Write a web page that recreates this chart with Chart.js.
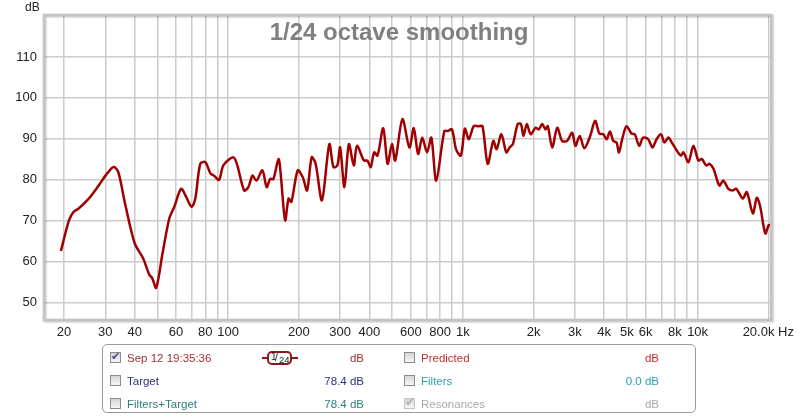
<!DOCTYPE html>
<html>
<head>
<meta charset="utf-8">
<script src="https://cdn.jsdelivr.net/npm/chart.js@4.4.0/dist/chart.umd.min.js"></script>
<style>
  html, body { margin: 0; padding: 0; background: #fff; }
  body { width: 800px; height: 418px; position: relative; overflow: hidden;
         font-family: "Liberation Sans", Arial, sans-serif; }
  #chart { position: absolute; left: 0; top: 0; }
  .panel { position: absolute; left: 102px; top: 344px; width: 594px; height: 69px;
           border: 1px solid #9a9a9a; border-radius: 5px; box-sizing: border-box; }
  .row { position: absolute; height: 14px; line-height: 14px; font-size: 11.5px; white-space: nowrap; }
  .cb { position: absolute; width: 11px; height: 11px; border: 1px solid #8c8c8c;
        background: linear-gradient(#d6d6d6, #f6f6f6); box-sizing: border-box; }
  .cb span { position: absolute; left: 0px; top: -3px; font-size: 11px; font-family: "DejaVu Sans", sans-serif; }
  .val { position: absolute; text-align: right; width: 80px; }
  .badge { position: absolute; left: 262px; top: 351px; width: 36px; height: 14px; }
  .badge .stub { position: absolute; top: 6px; height: 2px; width: 7px; background: #8a1a1a; }
  .badge .box { position: absolute; left: 5px; top: 0; width: 25px; height: 14px;
                border: 2px solid #8a1a1a; border-radius: 5px; box-sizing: border-box; background: #fff;
                color: #222; }
  .badge .box span { position: absolute; line-height: 10px; }
</style>
</head>
<body>
<canvas id="chart" width="800" height="345"></canvas>

<div class="panel"></div>

<div class="cb" style="left:110px; top:352px;"><span style="color:#4a4a9a;">✔</span></div>
<div class="row" style="left:127px; top:351px; color:#a03030;">Sep 12 19:35:36</div>
<div class="badge">
  <div class="stub" style="left:0;"></div>
  <div class="stub" style="left:29px;"></div>
  <div class="box">
    <span style="left:2px; top:-1px; font-size:10px;">1</span>
    <span style="left:6px; top:0px; font-size:10px;">/</span>
    <span style="left:10px; top:2px; font-size:9.5px;">24</span>
  </div>
</div>
<div class="row val" style="left:284px; top:351px; color:#a03030;">dB</div>

<div class="cb" style="left:110px; top:375px;"></div>
<div class="row" style="left:127px; top:374px; color:#30307a;">Target</div>
<div class="row val" style="left:284px; top:374px; color:#30307a;">78.4 dB</div>

<div class="cb" style="left:110px; top:398px;"></div>
<div class="row" style="left:127px; top:397px; color:#2e7e7a;">Filters+Target</div>
<div class="row val" style="left:284px; top:397px; color:#2e7e7a;">78.4 dB</div>

<div class="cb" style="left:404px; top:352px;"></div>
<div class="row" style="left:421px; top:351px; color:#c03030;">Predicted</div>
<div class="row val" style="left:579px; top:351px; color:#c03030;">dB</div>

<div class="cb" style="left:404px; top:375px;"></div>
<div class="row" style="left:421px; top:374px; color:#2ea0b0;">Filters</div>
<div class="row val" style="left:579px; top:374px; color:#2ea0b0;">0.0 dB</div>

<div class="cb" style="left:404px; top:398px; border-color:#c4c4c4;"><span style="color:#b0b0b0;">✔</span></div>
<div class="row" style="left:421px; top:397px; color:#a8a8a8;">Resonances</div>
<div class="row val" style="left:579px; top:397px; color:#a8a8a8;">dB</div>

<script>
const freqHz = [
    19.4, 21.0, 22.0, 23.1, 25.5, 28.1, 30.5, 32.6, 34.1, 36.4,
    40.0, 43.4, 46.2, 47.5, 49.4, 52.6, 56.2, 59.0, 63.1, 66.3,
    69.9, 72.5, 76.1, 80.0, 84.2, 87.1, 91.5, 95.5, 105, 109,
    117, 122, 127, 132, 140, 146, 151, 156, 164, 168,
    175, 181, 186, 198, 208, 217, 227, 236, 251, 270,
    281, 292, 300, 313, 327, 343, 354, 379, 392, 405,
    419, 433, 458, 478, 499, 515, 553, 592, 618, 645,
    671, 704, 734, 770, 834, 862, 899, 935, 981, 1020,
    1060, 1112, 1166, 1212, 1276, 1348, 1392, 1460, 1532, 1581,
    1633, 1712, 1768, 1812, 1872, 1946, 2040, 2107, 2177, 2250,
    2300, 2403, 2523, 2649, 2781, 2920, 3017, 3146, 3291, 3487,
    3659, 3815, 3967, 4097, 4232, 4372, 4516, 4623, 4788, 4980,
    5229, 5404, 5636, 5862, 6158, 6424, 6686, 6986, 7217, 7508,
    7762, 8160, 8482, 8706, 9137, 9598, 10077, 10411, 10873, 11236,
    11681, 12380, 12870, 13517, 14110, 14580, 14930, 15580, 16200, 17190,
    17880, 18480, 19420, 20070, 20400
];

const splDb = [
    62.6, 70.1, 72.2, 73.0, 75.4, 78.6, 81.5, 83.1, 81.8, 74.2,
    64.5, 60.9, 56.8, 56.0, 53.6, 62.1, 70.6, 73.4, 77.8, 75.8,
    73.4, 75.4, 83.9, 84.3, 81.5, 81.0, 80.0, 83.5, 85.5, 83.9,
    77.4, 78.2, 81.0, 79.8, 82.3, 78.2, 80.2, 80.2, 85.1, 80.6,
    70.1, 75.4, 74.6, 82.3, 80.6, 77.4, 85.5, 83.9, 75.0, 88.7,
    83.1, 83.5, 87.9, 78.2, 88.7, 83.5, 88.3, 84.7, 84.7, 83.1,
    86.7, 85.9, 92.6, 83.9, 88.7, 84.7, 94.8, 87.9, 92.6, 86.3,
    90.3, 86.7, 90.3, 79.8, 91.9, 91.9, 92.3, 87.5, 85.9, 92.5,
    89.9, 93.1, 93.1, 93.1, 83.9, 89.5, 87.5, 91.1, 86.7, 87.9,
    88.7, 93.6, 93.6, 90.7, 93.6, 91.1, 92.7, 92.3, 93.6, 92.3,
    93.1, 87.9, 92.7, 89.5, 89.5, 91.5, 88.3, 90.7, 87.7, 90.7,
    94.4, 91.3, 91.1, 89.9, 91.8, 89.5, 89.1, 86.7, 90.3, 93.1,
    91.3, 91.1, 88.3, 90.3, 89.9, 87.9, 89.9, 91.1, 89.1, 90.3,
    89.1, 87.1, 85.9, 86.7, 84.3, 88.3, 84.7, 85.1, 83.5, 83.9,
    82.7, 78.6, 79.8, 77.8, 77.4, 77.8, 77.0, 75.4, 77.0, 71.8,
    75.6, 73.4, 66.9, 68.9, 68.9
];

// axis ticks
const xGridHz = [
    20, 30, 40, 50, 60, 70, 80, 90, 100,
    200, 300, 400, 500, 600, 700, 800, 900, 1000,
    2000, 3000, 4000, 5000, 6000, 7000, 8000, 9000, 10000, 20000
];
const xLabelHz = [20, 30, 40, 60, 80, 100, 200, 300, 400, 600, 800,
    1000, 2000, 3000, 4000, 5000, 6000, 8000, 10000, 20000];
const xLabelText = ["20", "30", "40", "60", "80", "100", "200", "300", "400", "600", "800",
    "1k", "2k", "3k", "4k", "5k", "6k", "8k", "10k", "20.0k Hz"];
const yTicks = [50, 60, 70, 80, 90, 100, 110];

const tickFont = { family: "Liberation Sans", size: 13 };

// frame, title and unit label
const decorPlugin = {
    id: "decor",
    beforeDatasetsDraw(chart) {
        const { ctx } = chart;
        ctx.save();
        ctx.font = "bold 24px 'Liberation Sans'";
        ctx.fillStyle = "#808080";
        ctx.textAlign = "center";
        ctx.textBaseline = "alphabetic";
        ctx.fillText("1/24 octave smoothing", 399, 40);
        ctx.restore();
    },
    afterDraw(chart) {
        const { ctx, chartArea } = chart;
        ctx.save();
        ctx.shadowColor = "rgba(0,0,0,0.25)";
        ctx.shadowBlur = 2;
        ctx.shadowOffsetX = 1;
        ctx.shadowOffsetY = 1;
        ctx.strokeStyle = "#c4c4c4";
        ctx.lineWidth = 2.5;
        ctx.strokeRect(chartArea.left - 1, chartArea.top - 1,
            chartArea.right - chartArea.left + 2, chartArea.bottom - chartArea.top + 2);
        ctx.restore();

        ctx.save();
        ctx.font = "12px 'Liberation Sans'";
        ctx.fillStyle = "#222";
        ctx.textBaseline = "middle";
        ctx.fillText("dB", 25, 8);
        ctx.restore();
    }
};

const ctx = document.getElementById("chart").getContext("2d");

new Chart(ctx, {
    type: "scatter",
    data: {
        datasets: [{
            data: freqHz.map((f, i) => ({ x: f, y: splDb[i] })),
            showLine: true,
            borderColor: "#a00000",
            borderWidth: 2.5,
            pointRadius: 0,
            tension: 0.3
        }]
    },
    options: {
        responsive: false,
        animation: false,
        layout: {
            padding: { top: 16, right: 22, left: 0, bottom: 0 }
        },
        plugins: {
            legend: { display: false },
            tooltip: { enabled: false }
        },
        scales: {
            x: {
                type: "logarithmic",
                min: 16.6,
                max: 20400,
                afterBuildTicks: scale => {
                    scale.ticks = xGridHz.map(v => ({ value: v }));
                },
                afterFit: scale => { scale.height = 26; },
                grid: { color: "#cccccc", lineWidth: 1.5, drawTicks: false },
                border: { display: false },
                ticks: {
                    autoSkip: false,
                    maxRotation: 0,
                    padding: 6,
                    color: "#222",
                    font: tickFont,
                    callback: value => {
                        const i = xLabelHz.indexOf(value);
                        return i >= 0 ? xLabelText[i] : "";
                    }
                }
            },
            y: {
                min: 46,
                max: 120,
                afterBuildTicks: scale => {
                    scale.ticks = yTicks.map(v => ({ value: v }));
                },
                afterFit: scale => { scale.width = 45; },
                grid: { color: "#cccccc", lineWidth: 1.5, drawTicks: false },
                border: { display: false },
                ticks: {
                    padding: 8,
                    color: "#222",
                    font: tickFont
                }
            }
        }
    },
    plugins: [decorPlugin]
});
</script>
</body>
</html>
